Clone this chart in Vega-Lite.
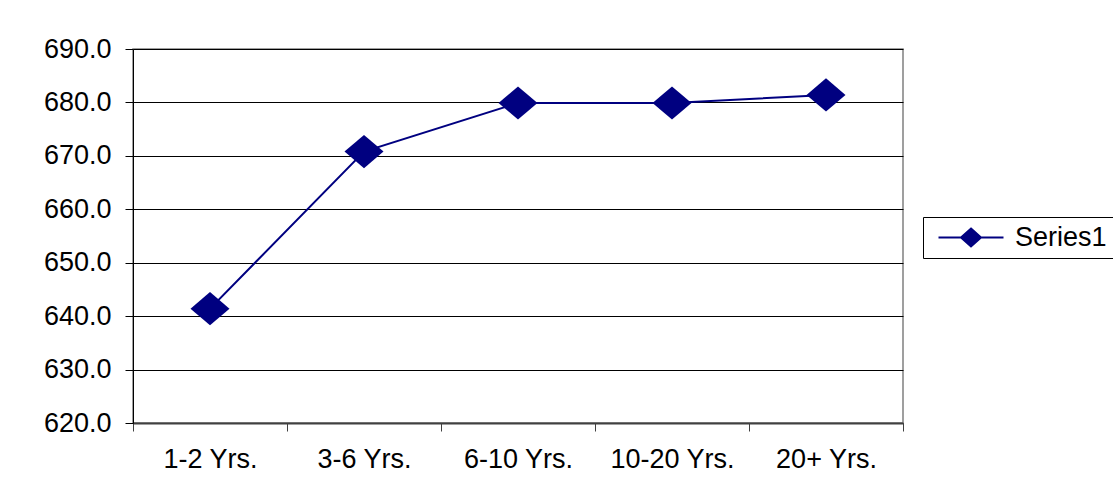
{
  "$schema": "https://vega.github.io/schema/vega-lite/v6.json",
  "width": 770,
  "height": 374,
  "autosize": {"type": "none"},
  "padding": {"left": 133, "top": 49, "right": 210, "bottom": 75},
  "background": "white",
  "config": {
    "font": "Liberation Sans",
    "view": {"stroke": "#808080", "strokeWidth": 1.5}
  },
  "data": {
    "values": [
      {"cat": "1-2 Yrs.", "value": 641.4, "series": "Series1"},
      {"cat": "3-6 Yrs.", "value": 670.8, "series": "Series1"},
      {"cat": "6-10 Yrs.", "value": 679.9, "series": "Series1"},
      {"cat": "10-20 Yrs.", "value": 679.9, "series": "Series1"},
      {"cat": "20+ Yrs.", "value": 681.4, "series": "Series1"}
    ]
  },
  "encoding": {
    "x": {
      "field": "cat",
      "type": "ordinal",
      "sort": null,
      "scale": {"type": "band", "paddingInner": 0, "paddingOuter": 0},
      "axis": {
        "title": null,
        "labelAngle": 0,
        "labelFont": "Liberation Sans",
        "labelFontSize": 27,
        "labelColor": "black",
        "labelPadding": 15,
        "tickBand": "extent",
        "tickSize": 8,
        "tickColor": "#404040",
        "domainColor": "#404040",
        "domainWidth": 2,
        "grid": false
      }
    },
    "y": {
      "field": "value",
      "type": "quantitative",
      "scale": {"domain": [620, 690], "nice": false, "zero": false},
      "axis": {
        "title": null,
        "values": [620, 630, 640, 650, 660, 670, 680, 690],
        "format": ".1f",
        "labelFont": "Liberation Sans",
        "labelFontSize": 27,
        "labelColor": "black",
        "labelPadding": 14,
        "tickSize": 8,
        "tickColor": "black",
        "domainColor": "black",
        "grid": true,
        "gridColor": "black",
        "gridOpacity": 1,
        "gridWidth": 1
      }
    }
  },
  "layer": [
    {
      "mark": {"type": "line", "strokeWidth": 2},
      "encoding": {
        "color": {
          "field": "series",
          "type": "nominal",
          "scale": {"range": ["#000080"]},
          "legend": {
            "title": null,
            "orient": "none",
            "legendX": 790,
            "legendY": 168,
            "padding": 7,
            "strokeColor": "black",
            "fillColor": "white",
            "symbolType": "M-0.5,0L6,0M2.75,-0.9L3.75,0L2.75,0.9L1.75,0Z",
            "symbolSize": 400,
            "symbolStrokeWidth": 2,
            "labelFont": "Liberation Sans",
            "labelFontSize": 27,
            "labelColor": "black",
            "labelOffset": 58,
            "encode": {
              "symbols": {
                "update": {
                  "fill": {"value": "#000080"},
                  "stroke": {"value": "#000080"},
                  "strokeWidth": {"value": 2},
                  "opacity": {"value": 1},
                  "fillOpacity": {"value": 1}
                }
              }
            }
          }
        }
      }
    },
    {
      "mark": {
        "type": "point",
        "shape": "M-1,0L0,-0.85L1,0L0,0.85Z",
        "filled": true,
        "size": 1521,
        "color": "#000080",
        "opacity": 1
      }
    }
  ]
}
